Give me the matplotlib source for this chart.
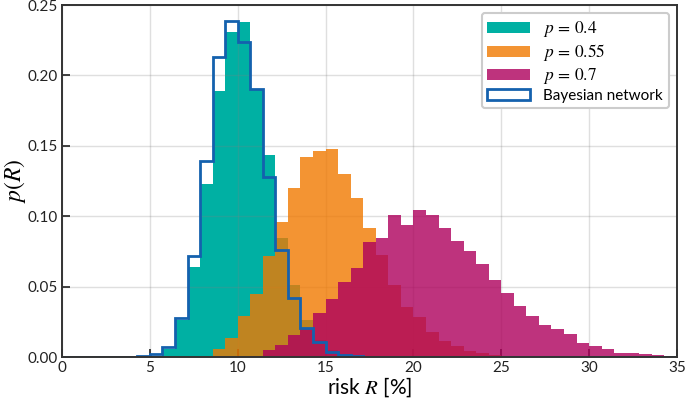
import numpy as np
import matplotlib
matplotlib.use("Agg")
import matplotlib.pyplot as plt
from matplotlib.patches import Patch

# bin edges: 49 bins of width 5/7 between 0 and 35 %
edges = np.linspace(0, 35, 50)

# histogram densities per bin (index = bin number)
p04 = [0] * 7 + [0.001, 0.0055, 0.026, 0.064, 0.123, 0.189, 0.2305, 0.238,
                 0.190, 0.1435, 0.0843, 0.051, 0.026, 0.012, 0.005, 0.002,
                 0.001] + [0] * 25
p055 = [0] * 10 + [0.0003, 0.001, 0.006, 0.0135, 0.029, 0.045, 0.072, 0.096,
                   0.120, 0.142, 0.1462, 0.148, 0.130, 0.1127, 0.0916, 0.0725,
                   0.051, 0.0357, 0.0286, 0.018, 0.0115, 0.0075, 0.0043,
                   0.0026, 0.0017, 0.001, 0.0005, 0.0003] + [0] * 11
p07 = [0] * 14 + [0.0003, 0.001, 0.005, 0.0085, 0.0156, 0.0204, 0.031, 0.041,
                  0.0535, 0.063, 0.082, 0.0847, 0.1008, 0.0937, 0.1044, 0.1008,
                  0.0914, 0.0824, 0.075, 0.066, 0.055, 0.0457, 0.0365, 0.0294,
                  0.0227, 0.0199, 0.0163, 0.0102, 0.0078, 0.0055, 0.0028,
                  0.0027, 0.0019, 0.0012, 0.0008]
bayes = [0] * 6 + [0.0005, 0.002, 0.0073, 0.028, 0.0717, 0.139, 0.213, 0.239,
                   0.224, 0.190, 0.128, 0.076, 0.0417, 0.0204, 0.011, 0.0038,
                   0.0015, 0.0007, 0.0003] + [0] * 24

labels = [r"$p\,=\,0.4$", r"$p\,=\,0.55$", r"$p\,=\,0.7$", "Bayesian network"]

TEAL = "#00B0A3"
ORANGE = "#F07900"
MAGENTA = "#AE005C"
BLUE = "#1461AE"

plt.rcParams["font.family"] = ["Lato", "DejaVu Sans"]
plt.rcParams["mathtext.fontset"] = "stix"

fig = plt.figure(figsize=(6.85, 4.01), dpi=100)
ax = fig.add_axes([0.0905, 0.1097, 0.8978, 0.8778])

ax.stairs(p04, edges, fill=True, color=TEAL, alpha=1.0, zorder=2)
ax.stairs(p055, edges, fill=True, color=ORANGE, alpha=0.8, zorder=3)
ax.stairs(p07, edges, fill=True, color=MAGENTA, alpha=0.8, zorder=4)
ax.stairs(bayes, edges, color=BLUE, lw=2.0, zorder=5)

ax.set_xlim(0, 35)
ax.set_ylim(0, 0.25)
ax.set_xticks(np.arange(0, 36, 5))
ax.set_yticks(np.arange(0, 0.26, 0.05))
ax.yaxis.set_major_formatter(matplotlib.ticker.FormatStrFormatter("%.2f"))

ax.grid(True, color="grey", alpha=0.25, lw=1.0)
ax.set_axisbelow(False)
ax.tick_params(direction="in", length=6, width=1.2, labelsize=11,
               colors="#222222", pad=3)
for s in ax.spines.values():
    s.set_linewidth(1.4)
    s.set_color("#333333")
    s.set_zorder(6)

ax.set_xlabel(r"risk $R$ [%]", fontsize=15, labelpad=0)
ax.set_ylabel(r"$p(R)$", fontsize=17)
ax.yaxis.set_label_coords(-0.055, 0.5)

handles = [
    Patch(facecolor=TEAL, edgecolor="none"),
    Patch(facecolor=ORANGE, alpha=0.8, edgecolor="none"),
    Patch(facecolor=MAGENTA, alpha=0.8, edgecolor="none"),
    Patch(facecolor="white", edgecolor=BLUE, lw=2.0),
]
leg = ax.legend(handles, labels, loc="upper right", fontsize=11,
                frameon=True, framealpha=1.0, edgecolor="#cccccc",
                handlelength=2.8, handleheight=0.75, labelspacing=0.2,
                borderpad=0.35, borderaxespad=0.55, handletextpad=0.9,
                fancybox=True)
for t in leg.get_texts()[:3]:
    t.set_fontsize(12.5)
leg.set_zorder(10)
leg.get_frame().set_linewidth(1.5)

fig.savefig("out.png", dpi=100)
